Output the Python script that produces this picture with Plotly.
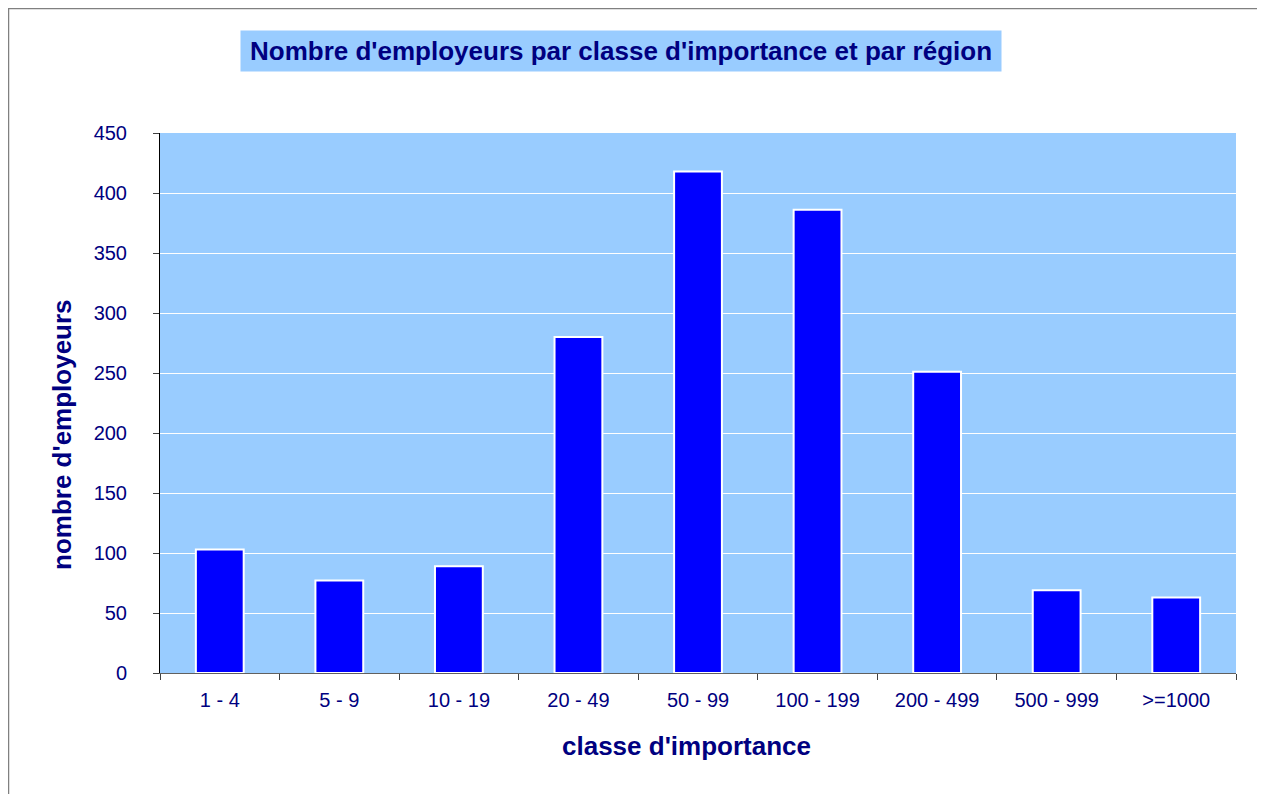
import plotly.graph_objects as go

# Données
classes = ['1 - 4', '5 - 9', '10 - 19', '20 - 49', '50 - 99',
           '100 - 199', '200 - 499', '500 - 999', '>=1000']
employeurs = [103, 77, 89, 280, 418, 386, 251, 69, 63]
y_ticks = [0, 50, 100, 150, 200, 250, 300, 350, 400, 450]

navy = '#000080'
font = 'Liberation Sans, Arial, sans-serif'

# la page ajoute une marge de 8 px autour de la figure
OFF = 8
W, H = 1265 - OFF, 794 - OFF
L, R, T, B = 160 - OFF, 1236 - OFF, 133 - OFF, 673 - OFF
pw, ph = R - L, B - T


def px_x(x):
    return (x - OFF - L) / pw


def px_y(y):
    return (B - (y - OFF)) / ph


fig = go.Figure(go.Bar(
    x=classes, y=employeurs,
    marker=dict(color='#0000FF', line=dict(color='white', width=2)),
    hoverinfo='x+y'
))

fig.update_layout(
    width=W, height=H,
    margin=dict(l=L, r=W - R, t=T, b=H - B, pad=0),
    paper_bgcolor='white', plot_bgcolor='#99CCFF',
    bargap=0.6, showlegend=False,
    font=dict(family=font, color=navy, size=20),
)

fig.update_xaxes(
    type='category', showline=True, linecolor='#606060', linewidth=1,
    ticks='outside', tickson='boundaries', ticklen=6, tickcolor='#404040',
    ticklabelstandoff=9, tickfont=dict(size=20, color=navy), showgrid=False,
)
fig.update_yaxes(
    range=[0, 450], tickvals=y_ticks, showline=True, linecolor='black', linewidth=1,
    ticks='outside', ticklen=6, tickcolor='#404040', ticklabelstandoff=22,
    tickfont=dict(size=20, color=navy), showgrid=True, gridcolor='white', gridwidth=1,
    zeroline=False,
)

fig.add_annotation(
    text="<b>Nombre d'employeurs par classe d'importance et par région</b>",
    xref='paper', yref='paper', x=px_x(621), y=px_y(51), showarrow=False,
    xanchor='center', yanchor='middle', width=758, height=38,
    bgcolor='#99CCFF', font=dict(size=26, color=navy, family=font),
)
fig.add_annotation(
    text="<b>classe d'importance</b>", xref='paper', yref='paper',
    x=px_x(686), y=px_y(746), showarrow=False, xanchor='center', yanchor='middle',
    font=dict(size=26, color=navy, family=font),
)
fig.add_annotation(
    text="<b>nombre d'employeurs</b>", xref='paper', yref='paper',
    x=px_x(62), y=px_y(435), showarrow=False, xanchor='center', yanchor='middle',
    textangle=-90, font=dict(size=26, color=navy, family=font),
)

# cadre autour du graphique
fig.add_shape(
    type='rect', xref='paper', yref='paper',
    x0=px_x(8.5), x1=px_x(1300), y0=px_y(8.5), y1=px_y(830),
    line=dict(color='#808080', width=1.5), layer='below',
)

fig.write_html('out.html')
